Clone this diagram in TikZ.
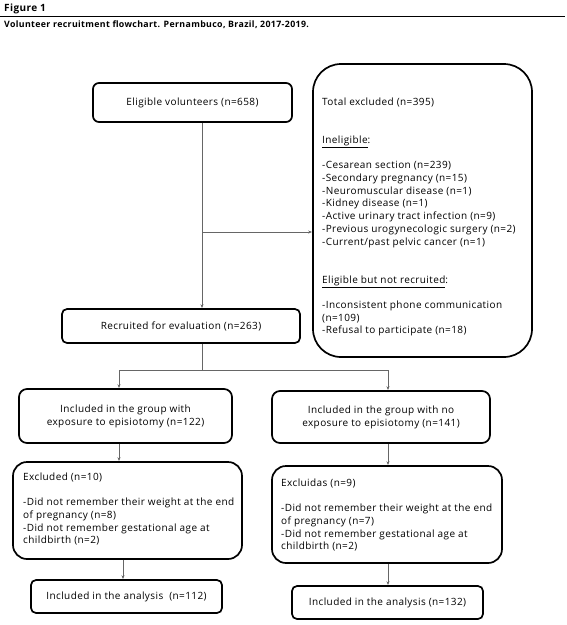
\documentclass[tikz,border=0pt]{standalone}
\usepackage{fontspec}
\setmainfont{Open Sans}[LetterSpace=4]
\usetikzlibrary{arrows.meta}
\begin{document}
\begin{tikzpicture}[x=1pt,y=-1pt,
  box/.style={draw=black, line width=1.7pt, inner sep=0pt, font=\fontsize{10}{13}\selectfont, align=center},
  conn/.style={draw=black!60, line width=0.8pt},
  arr/.style={conn, -{Stealth[length=4pt,width=3pt]}},
  txt/.style={font=\fontsize{10}{12.7}\selectfont, inner sep=0pt, align=left, anchor=north west},
  ]
\useasboundingbox (0,0) rectangle (567,625);
% header
\node[font=\fontsize{10}{11}\selectfont\bfseries, anchor=west, inner sep=0pt] (title) at (4,9) {Figure 1};
\coordinate (rl) at (0,16);
\coordinate (rr) at (565,16);
\draw[line width=1pt] (rl) -- (rr);
\node[font=\fontsize{8.8}{10}\selectfont\bfseries, anchor=west, inner sep=0pt] (cap) at (4,25) {Volunteer recruitment flowchart. Pernambuco, Brazil, 2017-2019.};
% top boxes
\node[box, rounded corners=6pt, minimum width=199pt, minimum height=39pt] (elig) at (192.5,102.5) {Eligible volunteers (n=658)};
\node[box, rounded corners=28pt, minimum width=219pt, minimum height=293pt] (excl) at (422.5,210.5) {};
\node[txt] (excltxt) at (322,97.5) {Total excluded (n=395)\\[25.4pt]
\underline{Ineligible}:\\[12.7pt]
-Cesarean section (n=239)\\
-Secondary pregnancy (n=15)\\
-Neuromuscular disease (n=1)\\
-Kidney disease (n=1)\\
-Active urinary tract infection (n=9)\\
-Previous urogynecologic surgery (n=2)\\
-Current/past pelvic cancer (n=1)\\[25.4pt]
\underline{Eligible but not recruited}:\\[12.7pt]
-Inconsistent phone communication\\
(n=109)\\
-Refusal to participate (n=18)};
\node[box, rounded corners=5pt, minimum width=238pt, minimum height=34pt] (rec) at (181,326) {Recruited for evaluation (n=263)};
\coordinate (j1) at (202,232);
\draw[arr] (elig.south -| j1) -- (rec.north -| j1);
\draw[arr] (j1) -- (excl.west |- j1);
% split
\node[box, rounded corners=8pt, minimum width=213pt, minimum height=54pt] (gl) at (125.5,416) {Included in the group with\\exposure to episiotomy (n=122)};
\node[box, rounded corners=8pt, minimum width=218pt, minimum height=52pt] (gr) at (381,417) {Included in the group with no\\exposure to episiotomy (n=141)};
\coordinate (s0) at (202,370);
\coordinate (sl) at (119,370);
\coordinate (sr) at (388,370);
\draw[conn] (rec.south -| s0) -- (s0);
\draw[conn] (sl) -- (sr);
\draw[arr] (sl) -- (gl.north -| sl);
\draw[arr] (sr) -- (gr.north -| sr);
% excluded boxes
\node[box, rounded corners=14pt, minimum width=229pt, minimum height=97pt] (xl) at (127.5,510.5) {};
\node[txt] (xltxt) at (23,472.5) {Excluded (n=10)\\[12.7pt]
-Did not remember their weight at the end\\
of pregnancy (n=8)\\
-Did not remember gestational age at\\
childbirth (n=2)};
\node[box, rounded corners=14pt, minimum width=230pt, minimum height=97pt] (xr) at (387,514.5) {};
\node[txt] (xrtxt) at (281,478.5) {Excluidas (n=9)\\[12.7pt]
-Did not remember their weight at the end\\
of pregnancy (n=7)\\
-Did not remember gestational age at\\
childbirth (n=2)};
\coordinate (al) at (119,0);
\coordinate (ar) at (388,0);
\draw[arr] (gl.south -| al) -- (xl.north -| al);
\draw[arr] (gr.south -| ar) -- (xr.north -| ar);
% finals
\node[box, rounded corners=5pt, minimum width=191pt, minimum height=33pt] (fl) at (126.5,596.5) {Included in the analysis~ (n=112)};
\node[box, rounded corners=5pt, minimum width=191pt, minimum height=33pt] (fr) at (387.5,602.5) {Included in the analysis (n=132)};
\coordinate (bl) at (123,0);
\draw[arr] (xl.south -| bl) -- (fl.north -| bl);
\draw[arr] (xr.south -| ar) -- (fr.north -| ar);
\end{tikzpicture}
\end{document}
